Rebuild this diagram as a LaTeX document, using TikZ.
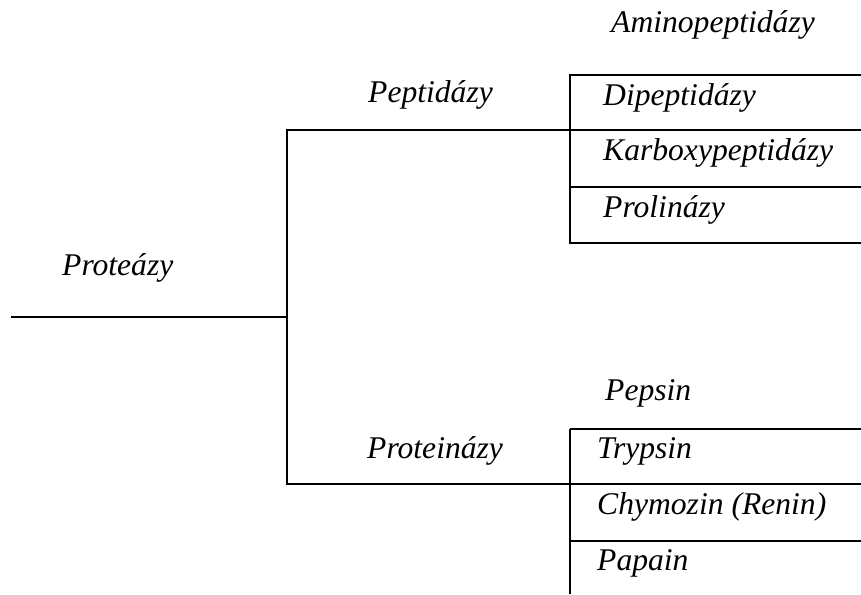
\documentclass[tikz,border=0pt]{standalone}
\usepackage{fontspec}
\setmainfont{Liberation Serif}
\begin{document}
\begin{tikzpicture}[x=1pt,y=-1pt,
  lbl/.style={anchor=base west,inner sep=0pt,font=\fontsize{31.6}{38}\selectfont\itshape},
  ln/.style={line width=2.8pt,line cap=rect}]
\useasboundingbox (0,0) rectangle (861,594);
% labels
\node[lbl] (amino) at (611,33) {Aminopeptidázy};
\node[lbl] (pept) at (368,102) {Peptidázy};
\node[lbl] (dipe) at (603,105) {Dipeptidázy};
\node[lbl] (karb) at (603,160) {Karboxypeptidázy};
\node[lbl] (prol) at (603,217) {Prolinázy};
\node[lbl] (prot) at (62,275) {Proteázy};
\node[lbl] (peps) at (605,400) {Pepsin};
\node[lbl] (ptin) at (367,458) {Proteinázy};
\node[lbl] (tryp) at (597,458) {Trypsin};
\node[lbl] (chym) at (597,514) {Chymozin (Renin)};
\node[lbl] (papa) at (597,570) {Papain};
% junctions
\coordinate (r0) at (12,317);
\coordinate (r1) at (287,317);
\coordinate (t0) at (287,130);
\coordinate (b0) at (287,484);
\coordinate (t1) at (570,130);
\coordinate (b1) at (570,484);
\coordinate (ua) at (570,75);   \coordinate (ua2) at (861,75);
\coordinate (ub2) at (861,130);
\coordinate (uc) at (570,187);  \coordinate (uc2) at (861,187);
\coordinate (ud) at (570,243);  \coordinate (ud2) at (861,243);
\coordinate (la) at (570,429);  \coordinate (la2) at (861,429);
\coordinate (lb2) at (861,484);
\coordinate (lc) at (570,541);  \coordinate (lc2) at (861,541);
\coordinate (ld) at (570,594);
% lines
\draw[ln] (r0) -- (r1);
\draw[ln] (t0) -- (b0);
\draw[ln] (t0) -- (t1);
\draw[ln] (b0) -- (b1);
\draw[ln] (ua) -- (ud);
\draw[ln,line cap=butt] (ua) -- (ua2);
\draw[ln,line cap=butt] (t1) -- (ub2);
\draw[ln,line cap=butt] (uc) -- (uc2);
\draw[ln,line cap=butt] (ud) -- (ud2);
\draw[ln,line cap=butt] (la) -- (ld);
\draw[ln,line cap=butt] (la) -- (la2);
\draw[ln,line cap=butt] (b1) -- (lb2);
\draw[ln,line cap=butt] (lc) -- (lc2);
\end{tikzpicture}
\end{document}
